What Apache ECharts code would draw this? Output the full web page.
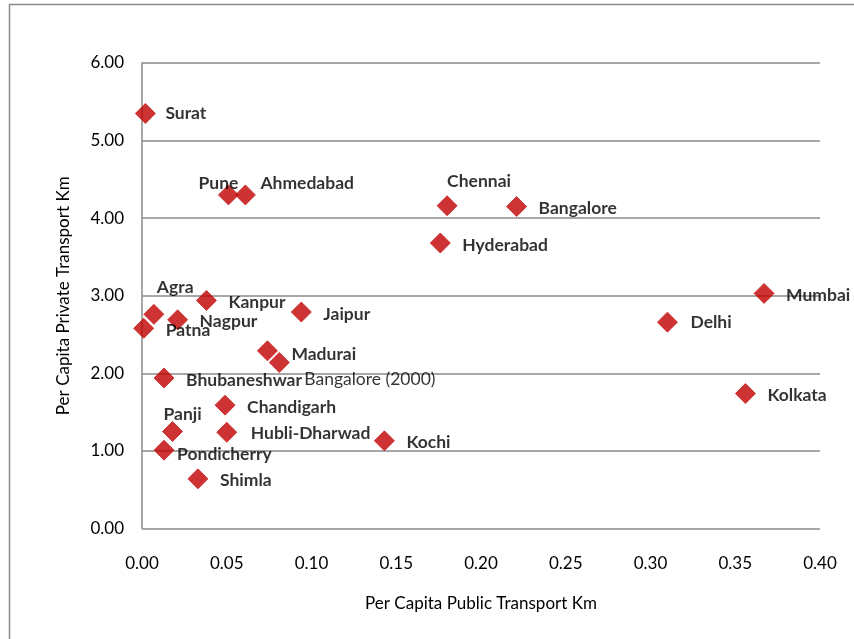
<!DOCTYPE html>
<html>
<head>
<meta charset="utf-8">
<script src="https://cdn.jsdelivr.net/npm/echarts@6/dist/echarts.min.js"></script>
<style>
html,body{margin:0;padding:0;background:#fff;}
#c{width:854px;height:639px;}
</style>
</head>
<body>
<div id="c"></div>
<script>
// ---- data ----
var cities = ["Surat","Pune","Ahmedabad","Chennai","Bangalore","Hyderabad","Agra","Kanpur","Patna","Nagpur","Jaipur","Madurai","Bangalore (2000)","Bhubaneshwar","Chandigarh","Panji","Hubli-Dharwad","Kochi","Pondicherry","Shimla","Mumbai","Delhi","Kolkata"];
var publicKm = [0.002,0.051,0.061,0.180,0.221,0.176,0.007,0.038,0.001,0.021,0.094,0.074,0.081,0.013,0.049,0.018,0.050,0.143,0.013,0.033,0.367,0.310,0.356];
var privateKm = [5.35,4.30,4.30,4.16,4.15,3.68,2.76,2.94,2.58,2.69,2.79,2.29,2.14,1.94,1.59,1.25,1.24,1.13,1.01,0.64,3.03,2.66,1.74];
var xTicks = [0,0.05,0.10,0.15,0.20,0.25,0.30,0.35,0.40];
var yTicks = [0,1,2,3,4,5,6];

// ---- label layout (styling only) ----
var labelLayout = {
  "Surat":[20,0,"left"], "Pune":[10,-12,"right"], "Ahmedabad":[15,-12,"left"],
  "Chennai":[0,-24,"left"], "Agra":[3,-27,"left"], "Panji":[-9,-17,"left"],
  "Pondicherry":[13,4,"left"], "Bangalore (2000)":[25,17,"left"], "Delhi":[23,0,"left"],
  "Madurai":[24,4,"left"], "Hubli-Dharwad":[24,1,"left"]
};

var FONT = "Lato";
var pts = cities.map(function(n,i){
  var L = labelLayout[n] || [22,2,"left"];
  return {
    name:n,
    value:[publicKm[i], privateKm[i]],
    label:{
      show:true, position:"inside", align:L[2], verticalAlign:"middle",
      offset:[L[0],L[1]], formatter:n,
      color:"#000", fontFamily:FONT, fontSize:17.5,
      fontWeight: n==="Bangalore (2000)" ? "normal" : "bold"
    }
  };
});

var chart = echarts.init(document.getElementById('c'), null, {renderer:'canvas'});
chart.setOption({
  animation:false,
  backgroundColor:'#fff',
  graphic:[{type:'rect', shape:{x:9.5,y:4.5,width:900,height:700}, style:{fill:'none', stroke:'#8a8a8a', lineWidth:1.5}, silent:true, z:-1}],
  grid:{left:142, right:34, top:63, bottom:110.5},
  xAxis:{
    type:'value', min:xTicks[0], max:xTicks[xTicks.length-1], interval:0.05,
    name:'Per Capita Public Transport Km', nameLocation:'middle', nameGap:67,
    nameTextStyle:{fontFamily:FONT, fontSize:17, color:'#000'},
    axisLine:{show:false}, axisTick:{show:false}, splitLine:{show:false},
    axisLabel:{fontFamily:FONT, fontSize:17, color:'#000', margin:27, formatter:function(v){return v.toFixed(2);}}
  },
  yAxis:{
    type:'value', min:yTicks[0], max:yTicks[yTicks.length-1], interval:1,
    name:'Per Capita Private Transport Km', nameLocation:'middle', nameGap:70,
    nameTextStyle:{fontFamily:FONT, fontSize:17, color:'#000'},
    axisLine:{show:true, onZero:false, lineStyle:{color:'#8a8a8a', width:1.5}},
    axisTick:{show:false},
    splitLine:{show:true, lineStyle:{color:'#8a8a8a', width:1.5}},
    axisLabel:{fontFamily:FONT, fontSize:17, color:'#000', margin:18, formatter:function(v){return v.toFixed(2);}}
  },
  series:[{
    type:'scatter', symbol:'diamond', symbolSize:[20,20],
    itemStyle:{color:'#C00000', borderColor:'#C81E1E', borderWidth:1},
    data:pts, z:3
  }]
});
</script>
</body>
</html>
